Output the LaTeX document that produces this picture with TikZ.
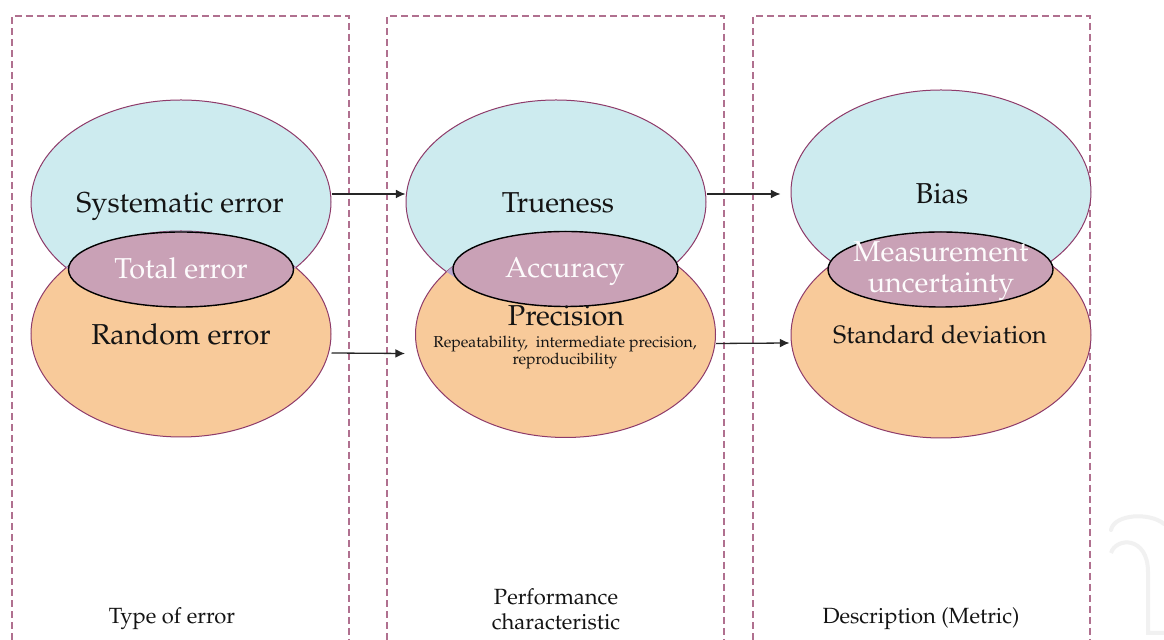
\documentclass[tikz,border=0pt]{standalone}
\usepackage[T1]{fontenc}
\renewcommand{\rmdefault}{ppl}
\usetikzlibrary{shapes.geometric,arrows.meta}
\definecolor{cyanfill}{HTML}{CDEBEF}
\definecolor{orangefill}{HTML}{F8CA9A}
\definecolor{innerfill}{HTML}{C9A1B6}
\definecolor{lensfill}{HTML}{B9A6CF}
\definecolor{rimcol}{HTML}{8E3B6A}
\definecolor{dashcol}{HTML}{B0708F}
\definecolor{inkcol}{HTML}{141414}
\definecolor{arrcol}{HTML}{262626}
\definecolor{wmark}{HTML}{F1F1F1}
\tikzset{
  bigtxt/.style={font=\fontsize{14.4}{15.5}\selectfont, text=inkcol, inner sep=0pt, anchor=base},
  midtxt/.style={font=\fontsize{12.6}{14}\selectfont, text=inkcol, inner sep=0pt, anchor=base},
  whitetxt/.style={font=\fontsize{14.4}{15.5}\selectfont, text=white!96!innerfill, inner sep=0pt, anchor=base},
  smalltxt/.style={font=\fontsize{7.9}{8.6}\selectfont, text=inkcol, inner sep=0pt, anchor=base},
  labtxt/.style={font=\fontsize{11}{12.5}\selectfont, text=inkcol, inner sep=0pt, anchor=base},
  cyanell/.style={ellipse, draw=rimcol, line width=0.5pt, fill=cyanfill, inner sep=0pt, minimum width=150pt, minimum height=102pt},
  orangeell/.style={ellipse, draw=rimcol, line width=0.5pt, fill=orangefill, inner sep=0pt, minimum width=150pt, minimum height=103pt},
  innerell/.style={ellipse, draw=black, line width=0.7pt, fill=innerfill, inner sep=0pt, minimum width=112.5pt, minimum height=37.5pt},
  dashbox/.style={draw=dashcol, line width=0.7pt, dash pattern=on 3.5pt off 2pt},
  arr/.style={draw=arrcol, line width=0.65pt, -{Latex[length=4.8pt,width=4.4pt]}},
}
\begin{document}
\begin{tikzpicture}[x=0.5pt,y=-0.5pt]
\useasboundingbox (0,0) rectangle (1164,640);
\fill[white] (0,0) rectangle (1164,640);

% column frames
\draw[dashbox] (12,640) -- (12,16) -- (349,16) -- (349,640);
\draw[dashbox] (387,640) -- (387,16) -- (724,16) -- (724,640);
\draw[dashbox] (753,640) -- (753,16) -- (1090,16) -- (1090,640);

% faint watermark
\draw[wmark, line width=2pt, line cap=round] (1111,530) .. controls (1114,514) and (1150,512) .. (1164,524);
\draw[wmark, line width=2pt] (1111,553) .. controls (1116,537) and (1148,536) .. (1148,572) -- (1148,633) -- (1164,633);

% ---------- column 1 ----------
\node[cyanell] (c1) at (181,202) {};
\node[orangeell] (o1) at (181,334) {};
\begin{scope}
  \clip (181,202) ellipse [x radius=150, y radius=102];
  \fill[lensfill] (181,334) ellipse [x radius=150, y radius=103];
\end{scope}
\node[innerell] (m1) at (181,269.5) {};

% ---------- column 2 ----------
\node[cyanell] (c2) at (556,202) {};
\node[orangeell] (o2) at (565.5,334.5) {};
\begin{scope}
  \clip (556,202) ellipse [x radius=150, y radius=102];
  \fill[lensfill] (565.5,334.5) ellipse [x radius=150, y radius=103];
\end{scope}
\node[innerell] (m2) at (565.5,269) {};

% ---------- column 3 ----------
\node[cyanell] (c3) at (941,192) {};
\node[orangeell] (o3) at (941,335) {};
\begin{scope}
  \clip (941,192) ellipse [x radius=150, y radius=102];
  \fill[lensfill] (941,335) ellipse [x radius=150, y radius=103];
\end{scope}
\node[innerell] (m3) at (940.5,269.5) {};

% ---------- texts ----------
\node[bigtxt] (tsys) at (180,213) {Systematic error};
\node[whitetxt] (ttot) at (181,279) {Total error};
\node[bigtxt] (tran) at (181,345) {Random error};

\node[bigtxt] (ttru) at (558,213) {Trueness};
\node[whitetxt] (tacc) at (565,278) {Accuracy};
\node[bigtxt] (tpre) at (566,326) {Precision};
\node[smalltxt] (trep1) at (565,348) {Repeatability,\ \ intermediate precision,};
\node[smalltxt] (trep2) at (565,365) {reproducibility};

\node[bigtxt] (tbia) at (942,204) {Bias};
\node[whitetxt] (tmea1) at (941,262) {Measurement};
\node[whitetxt] (tmea2) at (941,293) {uncertainty};
\node[midtxt] (tstd) at (940,344) {Standard deviation};

\node[labtxt] (l1) at (172,624) {Type of error};
\node[labtxt] (l2a) at (556,605) {Performance};
\node[labtxt] (l2b) at (556,630) {characteristic};
\node[labtxt] (l3) at (921,624) {Description (Metric)};

% ---------- connectors ----------
\draw[arr] ([shift={(0,-8)}]c1.east) -- ([shift={(0,-8)}]c2.west);
\draw[arr] ([shift={(0,19)}]o1.east) -- ([shift={(-10,19)}]o2.west);
\draw[arr] ([shift={(0,-8)}]c2.east) -- ([shift={(-10,2)}]c3.west);
\draw[arr] ([shift={(0,9)}]o2.east) -- ([shift={(-1,8)}]o3.west);
\end{tikzpicture}
\end{document}
